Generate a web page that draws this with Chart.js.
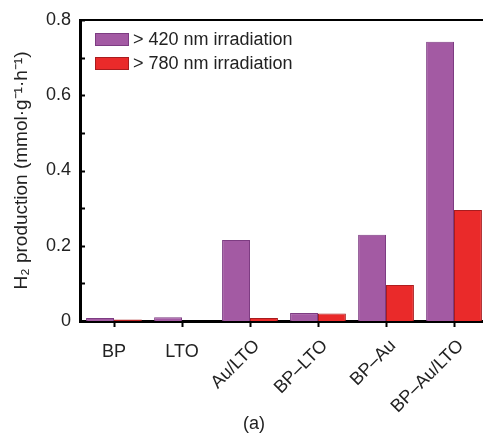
<!DOCTYPE html>
<html>
<head>
<meta charset="utf-8">
<script src="https://cdn.jsdelivr.net/npm/chart.js@4.4.0/dist/chart.umd.min.js"></script>
<style>
  html, body { margin: 0; padding: 0; overflow: hidden; background: #fff; }
</style>
</head>
<body>
<canvas id="h2Chart" width="500" height="434"></canvas>
<script>
// sample names (x axis)
const samples = ['BP', 'LTO', 'Au/LTO', 'BP–LTO', 'BP–Au', 'BP–Au/LTO'];
// H2 production, mmol g-1 h-1
const vis420 = [0.008, 0.010, 0.215, 0.021, 0.229, 0.742];
const nir780 = [0.004, 0.000, 0.008, 0.020, 0.096, 0.295];
// which x labels are tilted
const tilted = [false, false, true, true, true, true];
const seriesNames = ['> 420 nm irradiation', '> 780 nm irradiation'];
const yLabelTicks = [0, 0.2, 0.4, 0.6, 0.8];
const yMinorTicks = [0.1, 0.3, 0.5, 0.7];

const FONT = '"Liberation Sans", Arial, sans-serif';
const purple = '#a35aa3';
const red = '#ea2a2a';

// extra drawing: top border, inward ticks, x labels, legend, caption
const decor = {
  id: 'decor',
  afterDraw(chart) {
    const ctx = chart.ctx;
    const area = chart.chartArea;
    const x = chart.scales.x;
    const y = chart.scales.y;
    ctx.save();

    // top frame line
    ctx.strokeStyle = '#000';
    ctx.lineWidth = 2;
    ctx.beginPath();
    ctx.moveTo(area.left, area.top);
    ctx.lineTo(area.right, area.top);
    ctx.stroke();

    // inward ticks on y axis
    ctx.lineWidth = 2;
    yLabelTicks.concat(yMinorTicks).forEach(v => {
      const py = Math.round(y.getPixelForValue(v)) + 0.5;
      ctx.beginPath();
      ctx.moveTo(area.left, py);
      ctx.lineTo(area.left + 5, py);
      ctx.stroke();
    });

    // x labels
    ctx.fillStyle = '#222';
    ctx.font = '18px ' + FONT;
    samples.forEach((s, i) => {
      const px = x.getPixelForValue(i);
      if (!tilted[i]) {
        ctx.textAlign = 'center';
        ctx.textBaseline = 'middle';
        ctx.fillText(s, px, area.bottom + 31);
      } else {
        ctx.save();
        ctx.translate(px + 7, area.bottom + 22);
        ctx.rotate(-Math.PI / 4);
        ctx.textAlign = 'right';
        ctx.textBaseline = 'middle';
        ctx.fillText(s, 0, 0);
        ctx.restore();
      }
    });

    // legend
    const ds = chart.data.datasets;
    ds.forEach((d, i) => {
      const by = area.top + 13 + i * 24;
      ctx.fillStyle = d.backgroundColor;
      ctx.strokeStyle = d.borderColor;
      ctx.lineWidth = 1;
      ctx.fillRect(area.left + 15, by, 34, 13);
      ctx.strokeRect(area.left + 15.5, by + 0.5, 33, 12);
      ctx.fillStyle = '#222';
      ctx.textAlign = 'left';
      ctx.textBaseline = 'middle';
      ctx.fillText(d.label, area.left + 53, by + 7);
    });

    // caption
    ctx.textAlign = 'center';
    ctx.textBaseline = 'middle';
    ctx.fillText('(a)', 254, 424);

    ctx.restore();
  }
};

const data = {
  labels: samples,
  datasets: [
    {
      label: seriesNames[0],
      data: vis420,
      backgroundColor: purple,
      borderColor: '#7d3c82',
      borderWidth: 1,
      barPercentage: 1,
      categoryPercentage: 0.82
    },
    {
      label: seriesNames[1],
      data: nir780,
      backgroundColor: red,
      borderColor: '#a81c1e',
      borderWidth: 1,
      barPercentage: 1,
      categoryPercentage: 0.82
    }
  ]
};

const config = {
  type: 'bar',
  data: data,
  options: {
    responsive: false,
    animation: false,
    layout: { padding: { top: 20, right: 12, left: 0, bottom: 0 } },
    plugins: {
      legend: { display: false },
      tooltip: { enabled: false }
    },
    scales: {
      x: {
        grid: {
          display: true,
          offset: false,
          drawOnChartArea: false,
          drawTicks: true,
          tickLength: 6,
          tickWidth: 2,
          color: '#000'
        },
        border: { display: true, color: '#000', width: 3 },
        ticks: { display: false },
        afterFit(scale) { scale.height = 113; }
      },
      y: {
        min: 0,
        max: 0.8,
        grid: { display: false, drawTicks: false },
        border: { display: true, color: '#000', width: 3 },
        ticks: {
          stepSize: 0.2,
          padding: 9,
          color: '#222',
          font: { family: FONT, size: 18 },
          callback: v => (v === 0 ? '0' : v.toFixed(1))
        },
        title: {
          display: true,
          text: 'H₂ production (mmol·g⁻¹·h⁻¹)',
          color: '#222',
          font: { family: FONT, size: 19 },
          padding: { top: 10, bottom: 4 }
        },
        afterFit(scale) { scale.width = 80; }
      }
    }
  },
  plugins: [decor]
};

const ctx = document.getElementById('h2Chart');
new Chart(ctx, config);
</script>
</body>
</html>
